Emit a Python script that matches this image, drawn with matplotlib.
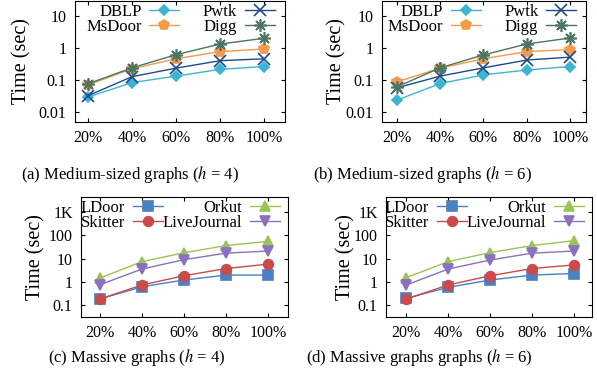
import numpy as np
import matplotlib
matplotlib.use("Agg")
import matplotlib.pyplot as plt

# ==========================================
# Data
# ==========================================

x_labels = ["20%", "40%", "60%", "80%", "100%"]

# medium-sized graphs, h = 4
dblp_h4 = [0.030, 0.085, 0.135, 0.22, 0.27]
msdoor_h4 = [0.072, 0.23, 0.47, 0.79, 0.95]
pwtk_h4 = [0.033, 0.13, 0.24, 0.41, 0.47]
digg_h4 = [0.078, 0.245, 0.63, 1.36, 2.05]

# medium-sized graphs, h = 6
dblp_h6 = [0.024, 0.079, 0.148, 0.21, 0.27]
msdoor_h6 = [0.089, 0.24, 0.47, 0.79, 0.91]
pwtk_h6 = [0.058, 0.135, 0.245, 0.43, 0.53]
digg_h6 = [0.062, 0.245, 0.62, 1.36, 2.1]

# massive graphs, h = 4
ldoor_h4 = [0.18, 0.60, 1.18, 1.93, 1.93]
skitter_h4 = [0.18, 0.72, 1.8, 3.7, 5.7]
orkut_h4 = [1.44, 7.3, 17.7, 36, 55]
lj_h4 = [0.74, 3.5, 8.9, 17, 21]

# massive graphs, h = 6
ldoor_h6 = [0.19, 0.57, 1.18, 1.93, 2.25]
skitter_h6 = [0.18, 0.72, 1.8, 3.7, 5.3]
orkut_h6 = [1.5, 7.3, 18, 36, 59]
lj_h6 = [0.72, 3.5, 8.6, 17, 21]

# ==========================================
# Style
# ==========================================

plt.rcParams["font.family"] = ["Liberation Serif", "DejaVu Serif"]
plt.rcParams["mathtext.fontset"] = "stix"

W, H = 597, 383
fig = plt.figure(figsize=(W / 100, H / 100), dpi=100)


def add_ax(x0, x1, y0, y1):
    return fig.add_axes([x0 / W, 1 - y1 / H, (x1 - x0) / W, (y1 - y0) / H])


medium_styles = [
    ("DBLP", "#3cb4d2", "D", 5, "#3cb4d2"),
    ("MsDoor", "#f59a4a", "p", 7, "#f59a4a"),
    ("Pwtk", "#1f4a8a", "x", 8, "none"),
    ("Digg", "#4a7560", (8, 2, 0), 9, "none"),
]

massive_styles = [
    ("LDoor", "#4a80c4", "s", 7, "#4a80c4"),
    ("Skitter", "#cc4a4a", "o", 7, "#cc4a4a"),
    ("Orkut", "#9cc25a", "^", 6.5, "#9cc25a"),
    ("LiveJournal", "#8c70c0", "v", 6.5, "#8c70c0"),
]


def draw(ax, series, styles, xlim, ylim, yticks, yticklabels,
         legend_anchor, colspace):
    xs = np.arange(1, len(x_labels) + 1)
    for vals, (name, col, mk, ms, fc) in zip(series, styles):
        ax.plot(xs, vals, color=col, marker=mk, markersize=ms,
                markerfacecolor=fc, markeredgecolor=col,
                markeredgewidth=1.2, linewidth=1.0, label=name)
    ax.set_yscale("log")
    ax.set_xlim(*xlim)
    ax.set_ylim(*ylim)
    ax.set_xticks(xs)
    ax.set_xticklabels(x_labels)
    ax.set_yticks(yticks)
    ax.set_yticklabels(yticklabels)
    ax.minorticks_off()
    ax.tick_params(direction="in", top=True, right=True, length=3,
                   labelsize=11.5, pad=6)
    ax.set_ylabel("Time (sec)", fontsize=14.5)
    for s in ax.spines.values():
        s.set_linewidth(0.8)
    h, l = ax.get_legend_handles_labels()
    ax.legend(h, l, ncol=2, loc="upper right", bbox_to_anchor=legend_anchor,
              frameon=False, markerfirst=False, fontsize=12,
              handlelength=1.8, handletextpad=0.45, columnspacing=colspace,
              labelspacing=-0.05, borderaxespad=0.0, borderpad=0.0)


ax_a = add_ax(75, 285, 1, 122)
ax_b = add_ax(382, 586, 1, 122)
ax_c = add_ax(81, 288, 197, 317)
ax_d = add_ax(386, 592, 197, 317)

med_ticks = [0.01, 0.1, 1, 10]
med_labels = ["0.01", "0.1", "1", "10"]
mas_ticks = [0.1, 1, 10, 100, 1000]
mas_labels = ["0.1", "1", "10", "100", "1K"]

draw(ax_a, [dblp_h4, msdoor_h4, pwtk_h4, digg_h4], medium_styles,
     (0.705, 5.48), (0.005, 30), med_ticks, med_labels, (0.95, 0.975), 1.4)
draw(ax_b, [dblp_h6, msdoor_h6, pwtk_h6, digg_h6], medium_styles,
     (0.66, 5.37), (0.005, 30), med_ticks, med_labels, (0.95, 0.975), 1.4)
draw(ax_c, [ldoor_h4, skitter_h4, orkut_h4, lj_h4], massive_styles,
     (0.55, 5.48), (0.03, 4500), mas_ticks, mas_labels, (0.96, 0.975), 0.0)
draw(ax_d, [ldoor_h6, skitter_h6, orkut_h6, lj_h6], massive_styles,
     (0.52, 5.43), (0.03, 4500), mas_ticks, mas_labels, (0.96, 0.975), 0.0)

ax_a.yaxis.set_label_coords(-0.205, 0.5)
ax_b.yaxis.set_label_coords(-0.175, 0.5)
ax_c.yaxis.set_label_coords(-0.17, 0.5)
ax_d.yaxis.set_label_coords(-0.15, 0.5)

# captions
fig.text(130 / W, 1 - 175 / H, r"(a) Medium-sized graphs ($h$ = 4)",
         ha="center", va="center", fontsize=12)
fig.text(422 / W, 1 - 175 / H, r"(b) Medium-sized graphs ($h$ = 6)",
         ha="center", va="center", fontsize=12)
fig.text(137 / W, 1 - 358 / H, r"(c) Massive graphs ($h$ = 4)",
         ha="center", va="center", fontsize=12)
fig.text(419 / W, 1 - 358 / H, r"(d) Massive graphs graphs ($h$ = 6)",
         ha="center", va="center", fontsize=12)

fig.savefig("out.png", dpi=100)
